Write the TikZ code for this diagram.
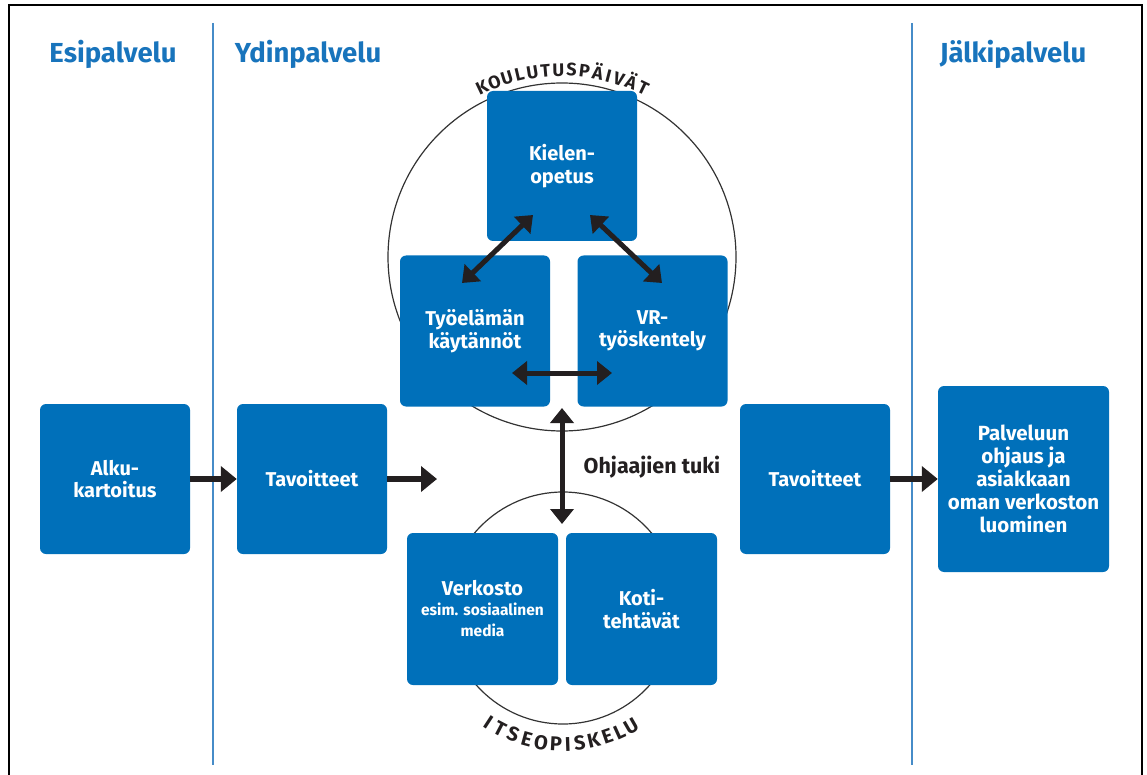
\documentclass[tikz,border=0pt]{standalone}
\usepackage{fontspec}
\setmainfont{Fira Sans}
\usetikzlibrary{arrows.meta,calc}
\definecolor{boxblue}{RGB}{0,112,186}
\definecolor{hdrblue}{RGB}{24,116,188}
\definecolor{ink}{RGB}{35,31,32}
\definecolor{divblue}{RGB}{70,140,200}
\begin{document}
\begin{tikzpicture}[x=1pt,y=1pt,
 blk/.style={fill=boxblue, rounded corners=6pt, text=white, font=\bfseries\fontsize{20}{22.5}\selectfont, align=center, inner sep=0pt, minimum width=150pt, minimum height=150pt},
 hdr/.style={text=hdrblue, font=\bfseries\fontsize{27.5}{30}\selectfont, anchor=base, inner sep=0pt},
 arr/.style={draw=ink, line width=5.5pt, -{Triangle[length=16pt,width=25pt]}},
 darr/.style={draw=ink, line width=5pt, {Triangle[length=15pt,width=23pt]}-{Triangle[length=15pt,width=23pt]}},
 ring/.style={draw=black!80, line width=1.2pt},
 arcl/.style={text=ink, font=\bfseries\fontsize{18}{18}\selectfont, inner sep=0pt, anchor=base},
 arcb/.style={text=ink, font=\bfseries\fontsize{20}{20}\selectfont, inner sep=0pt, anchor=base},
 divider/.style={draw=divblue, line width=1.3pt}
]
\useasboundingbox (0,0) rectangle (1147,-775);
% frame
\draw[line width=1.8pt] (9,-775) -- (9,-5) -- (1142,-5) -- (1142,-775);
% dividers
\draw[divider] (213,-23) -- (213,-765);
\draw[divider] (912,-23) -- (912,-765);
% headers
\node[hdr] (h1) at (113,-63) {Esipalvelu};
\node[hdr] (h2) at (308,-63) {Ydinpalvelu};
\node[hdr] (h3) at (1013,-63) {Jälkipalvelu};
% circles
\coordinate (cbig) at (562,-257);
\coordinate (csmall) at (563,-608);
\draw[ring] (cbig) circle[radius=174];
\draw[ring] (csmall) circle[radius=116];
% curved labels
\foreach \l/\a in {K/115.3,O/111.2,U/107.1,L/103.1,U/99.1,T/95.1,U/91.1,S/87.1,P/83.1,Ä/79,I/75.6,V/72.3,Ä/68.3,T/64.3}
  \node[arcl, rotate=\a-90] at ($(cbig)+(\a:181)$) {\l};
\foreach \l/\a in {I/236.8,T/242.4,S/248.5,E/254.6,O/260.7,P/267,I/272,S/277,K/283,E/289,L/294.5,U/300}
  \node[arcb, rotate=\a+90] at ($(csmall)+(\a:143)$) {\l};
% boxes
\node[blk] (kiel) at (562,-166) {Kielen-\\opetus};
\node[blk, minimum height=151pt] (tyo) at (475,-331) {Työelämän\\käytännöt};
\node[blk, minimum height=151pt] (vr) at (652.5,-331) {VR-\\työskentely};
\node[blk] (alku) at (115,-479) {Alku-\\kartoitus};
\node[blk] (tav1) at (312,-479) {Tavoitteet};
\node[blk] (tav2) at (815,-479) {Tavoitteet};
\node[blk, minimum width=171pt, minimum height=186pt, font=\bfseries\fontsize{20.5}{23}\selectfont] (palv) at (1023.5,-479) {Palveluun\\ohjaus ja\\asiakkaan\\oman verkoston\\luominen};
\node[blk, minimum width=151pt, minimum height=152pt] (verk) at (482.5,-609) {Verkosto\\[-3pt]{\fontsize{15.5}{21}\selectfont esim. sosiaalinen}\\[-1pt]{\fontsize{15.5}{21}\selectfont media}};
\node[blk, minimum width=151pt, minimum height=152pt] (koti) at (641.5,-609) {Koti-\\tehtävät};
% label
\node[text=ink, font=\bfseries\fontsize{21.5}{24}\selectfont, anchor=base, inner sep=0pt] (ohj) at (652,-473) {Ohjaajien tuki};
% arrows
\coordinate (free) at (437,-479);
\draw[arr] (alku.east) -- (tav1.west);
\draw[arr] (tav1.east) -- (free);
\draw[arr] (tav2.east) -- (palv.west);
\coordinate (k1) at (533,-215);
\coordinate (t1) at (462,-283);
\coordinate (k2) at (590,-215);
\coordinate (v1) at (662,-283);
\coordinate (t2) at (512,-373);
\coordinate (v2) at (612,-373);
\coordinate (m1) at (562,-408);
\coordinate (m2) at (562,-524);
\draw[darr] (k1) -- (t1);
\draw[darr] (k2) -- (v1);
\draw[darr] (t2) -- (v2);
\draw[darr] (m1) -- (m2);
\end{tikzpicture}
\end{document}
